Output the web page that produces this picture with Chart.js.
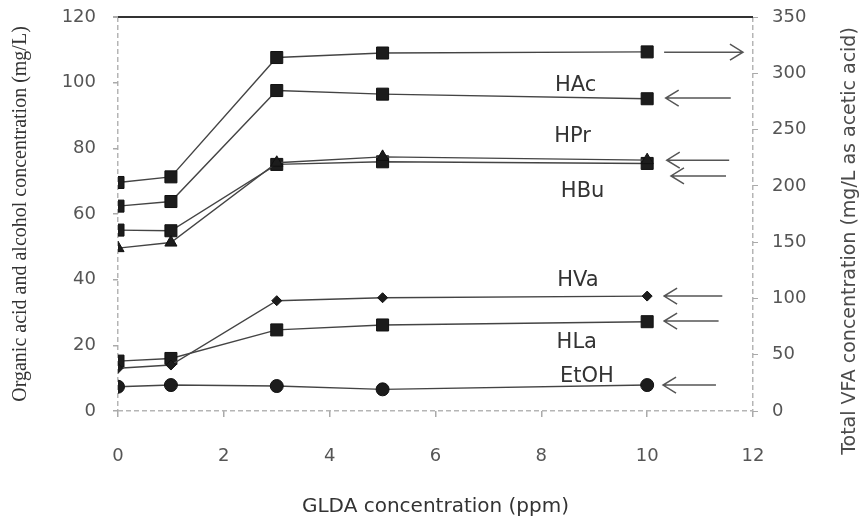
<!DOCTYPE html>
<html>
<head>
<meta charset="utf-8">
<script src="https://cdn.jsdelivr.net/npm/chart.js@4.4.1/dist/chart.umd.min.js"></script>
<style>
  html, body { margin: 0; padding: 0; background: #fff; }
  #wrap { width: 866px; height: 519px; }
</style>
</head>
<body>
<div id="wrap"><canvas id="c"></canvas></div>
<script>
// GLDA dose (ppm) and measured concentrations
const gldaDose = [0, 1, 3, 5, 10];
const totalVFA = [203, 208, 314, 318, 319];      // mg/L as acetic acid (right axis)
const hacConc  = [62.4, 63.8, 97.6, 96.5, 95.1];
const hprConc  = [49.6, 51.3, 75.6, 77.4, 76.4];
const hbuConc  = [55.1, 54.9, 75.1, 75.9, 75.4];
const hvaConc  = [13.0, 14.0, 33.6, 34.5, 35.0];
const hlaConc  = [15.2, 16.0, 24.7, 26.2, 27.2];
const etohConc = [7.4, 7.9, 7.6, 6.6, 7.9];

const xTicks     = [0, 2, 4, 6, 8, 10, 12];
const leftTicks  = [0, 20, 40, 60, 80, 100, 120];
const rightTicks = [0, 50, 100, 150, 200, 250, 300, 350];

// series names written next to the lines (x in ppm, y on left axis)
const seriesNames = [
  { text: 'HAc',  x: 8.65, y: 99 },
  { text: 'HPr',  x: 8.59, y: 83.5 },
  { text: 'HBu',  x: 8.78, y: 66.7 },
  { text: 'HVa',  x: 8.69, y: 39.6 },
  { text: 'HLa',  x: 8.67, y: 21 },
  { text: 'EtOH', x: 8.86, y: 10.4 }
];
// arrows telling which axis each line belongs to (tail -> head)
const axisArrows = [
  { tail: 10.32, head: 11.81, y: 109.3 },
  { tail: 11.58, head: 10.35, y: 95.3 },
  { tail: 11.55, head: 10.37, y: 76.4 },
  { tail: 11.49, head: 10.45, y: 71.6 },
  { tail: 11.42, head: 10.32, y: 35.0 },
  { tail: 11.35, head: 10.32, y: 27.4 },
  { tail: 11.30, head: 10.30, y: 7.9 }
];

const pts = vals => gldaDose.map((d, i) => ({ x: d, y: vals[i] }));

Chart.defaults.font.family = 'DejaVu Sans';
Chart.defaults.color = '#4a4a4a';

const lineStyle = (label, vals, shape, r, axis) => ({
  label, data: pts(vals), yAxisID: axis || 'y',
  borderColor: '#444', borderWidth: 1.4, tension: 0,
  pointStyle: shape, pointRadius: r, pointHoverRadius: r,
  pointBackgroundColor: '#1c1c1c', pointBorderColor: '#111', pointBorderWidth: 1
});

const axisGray = '#b5b5b5';

// fixed axis box sizes; vertical axes don't reserve extra room above/below
const fitVertical = w => s => { s.width = w; s.paddingTop = 0; s.paddingBottom = 0; };

const annotations = {
  id: 'annotations',
  afterDatasetsDraw(chart) {
    const { ctx, scales: { x, y } } = chart;
    ctx.save();
    ctx.font = '21px "DejaVu Sans"';
    ctx.fillStyle = '#333';
    ctx.textAlign = 'center';
    ctx.textBaseline = 'middle';
    seriesNames.forEach(s => ctx.fillText(s.text, x.getPixelForValue(s.x), y.getPixelForValue(s.y)));

    ctx.strokeStyle = '#555';
    ctx.lineWidth = 1.5;
    axisArrows.forEach(a => {
      const x0 = x.getPixelForValue(a.tail), x1 = x.getPixelForValue(a.head), py = y.getPixelForValue(a.y);
      const dir = x1 > x0 ? 1 : -1;
      ctx.beginPath();
      ctx.moveTo(x0, py); ctx.lineTo(x1, py);
      ctx.moveTo(x1 - dir * 13, py - 8); ctx.lineTo(x1, py); ctx.lineTo(x1 - dir * 13, py + 8);
      ctx.stroke();
    });

    // right axis title reads bottom-to-top
    ctx.translate(850, 241);
    ctx.rotate(-Math.PI / 2);
    ctx.font = '19px "DejaVu Sans"';
    ctx.fillStyle = '#4a4a4a';
    ctx.fillText('Total VFA concentration (mg/L as acetic acid)', 0, 0);
    ctx.restore();
  }
};

new Chart(document.getElementById('c'), {
  type: 'line',
  data: {
    datasets: [
      lineStyle('Total VFA', totalVFA, 'rect', 8.5, 'y1'),
      lineStyle('HAc', hacConc, 'rect', 8.5),
      lineStyle('HPr', hprConc, 'triangle', 7),
      lineStyle('HBu', hbuConc, 'rect', 8.5),
      lineStyle('HVa', hvaConc, 'rectRot', 5),
      lineStyle('HLa', hlaConc, 'rect', 8.5),
      lineStyle('EtOH', etohConc, 'circle', 6.5)
    ]
  },
  options: {
    responsive: true,
    maintainAspectRatio: false,
    animation: false,
    layout: { padding: { top: 17, left: 0, right: 0, bottom: 0 } },
    plugins: { legend: { display: false }, tooltip: { enabled: false } },
    scales: {
      x: {
        type: 'linear', min: 0, max: 12,
        afterBuildTicks: s => { s.ticks = xTicks.map(v => ({ value: v })); },
        afterFit: s => { s.height = 108; },
        // left and right frame lines come from the x=0 and x=12 grid lines
        border: { display: false, dash: [5, 3] },
        grid: {
          drawOnChartArea: true, drawTicks: true, tickLength: 6, tickColor: '#aaa', lineWidth: 1.5,
          color: c => c.tick && (c.tick.value === 0 || c.tick.value === 12) ? axisGray : 'transparent'
        },
        ticks: { font: { size: 18 }, color: '#555', padding: 29, maxRotation: 0 },
        title: { display: true, text: 'GLDA concentration (ppm)', font: { size: 20 }, color: '#333', padding: { top: 14, bottom: 0 } }
      },
      y: {
        position: 'left', min: 0, max: 120,
        afterBuildTicks: s => { s.ticks = leftTicks.map(v => ({ value: v })); },
        afterFit: fitVertical(118),
        // dashed baseline at 0, solid dark line at 120
        border: { display: false, dash: c => c.tick && c.tick.value === 120 ? [] : [5, 3] },
        grid: {
          drawOnChartArea: true, drawTicks: true, tickLength: 5, tickColor: '#aaa',
          color: c => !c.tick ? 'transparent' : c.tick.value === 120 ? '#333' : c.tick.value === 0 ? axisGray : 'transparent',
          lineWidth: c => c.tick && c.tick.value === 120 ? 2 : 1.5
        },
        ticks: { font: { size: 18 }, color: '#555', padding: 17 },
        title: { display: true, text: 'Organic acid and alcohol concentration (mg/L)', font: { family: 'Liberation Serif', size: 20 }, color: '#333', padding: { top: 9, bottom: 0 } }
      },
      y1: {
        position: 'right', min: 0, max: 350,
        afterBuildTicks: s => { s.ticks = rightTicks.map(v => ({ value: v })); },
        afterFit: fitVertical(113),
        border: { display: false },
        grid: { drawOnChartArea: false, drawTicks: true, tickLength: 5, tickColor: '#aaa' },
        ticks: { font: { size: 18 }, color: '#555', padding: 14 }
      }
    }
  },
  plugins: [annotations]
});
</script>
</body>
</html>
